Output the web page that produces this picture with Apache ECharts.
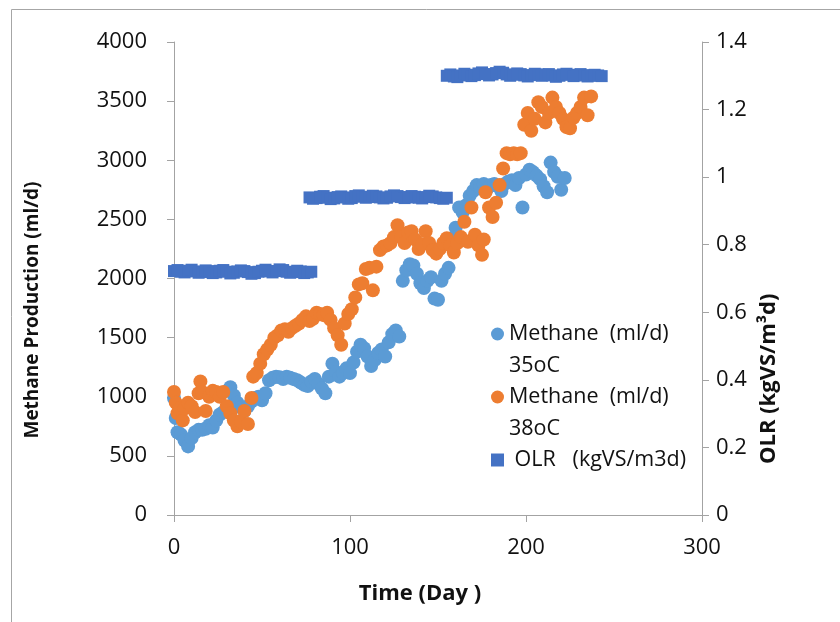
<!DOCTYPE html>
<html>
<head>
<meta charset="utf-8">
<script src="https://cdn.jsdelivr.net/npm/echarts@6/dist/echarts.min.js"></script>
<style>
  html, body { margin: 0; padding: 0; background: #fff; }
  #chart { width: 840px; height: 622px; }
</style>
</head>
<body>
<div id="chart"></div>
<script>
// Methane 35oC (ml/d)
var m35Days = [0, 1, 2, 4, 6, 8, 10, 12, 14, 16, 18, 20, 22, 24, 26, 28, 30, 32, 34, 36, 38, 40, 42, 44, 46, 48, 50,
  52, 54, 56, 58, 60, 62, 64, 66, 68, 70, 72, 74, 76, 78, 80, 82, 84, 86, 88, 90, 92, 94, 96, 98, 100,
  102, 104, 106, 108, 110, 112, 114, 116, 118, 120, 122, 124, 126, 128, 130, 132, 134, 136, 138, 140,
  142, 144, 146, 148, 150, 152, 154, 156, 158, 160, 162, 164, 166, 168, 170, 172, 174, 176, 178, 180,
  182, 184, 186, 188, 190, 192, 194, 196, 198, 200, 202, 204, 206, 208, 210, 212, 214, 216, 218, 220, 222]
var m35Values = [990, 820, 700, 680, 630, 580, 650, 700, 720, 720, 730, 760, 740, 800, 850, 870, 900, 1080, 1010, 950, 910, 880, 920, 960, 990, 1000, 970,
  1030, 1140, 1160, 1170, 1165, 1150, 1170, 1160, 1150, 1140, 1120, 1100, 1090, 1130, 1150, 1110, 1070, 1030, 1170, 1280, 1210, 1170, 1200, 1240, 1200,
  1290, 1380, 1440, 1410, 1340, 1260, 1310, 1370, 1400, 1340, 1460, 1530, 1560, 1510, 1980, 2070, 2120, 2110, 2040, 1960,
  1920, 1980, 2010, 1830, 1820, 1980, 2040, 2090, 2340, 2430, 2600, 2560, 2620, 2700, 2740, 2790, 2770, 2800, 2760, 2790,
  2800, 2780, 2740, 2800, 2820, 2830, 2790, 2850, 2600, 2880, 2920, 2900, 2870, 2840, 2780, 2730, 2980, 2900, 2860, 2750, 2850]

// Methane 38oC (ml/d)
var m38Days = [0, 1, 2, 3, 5, 6, 8, 10, 12, 14, 15, 16, 18, 20, 22, 24, 26, 28, 30, 32, 34, 36, 38, 40, 42, 44, 45,
  47, 49, 51, 53, 55, 57, 59, 61, 63, 65, 67, 69, 71, 73, 75, 77, 79, 81, 83, 85, 87, 89, 91, 93, 95, 97, 99,
  101, 103, 105, 107, 109, 111, 113, 115, 117, 119, 121, 123, 125, 127, 129, 131, 133, 135, 137, 139, 141,
  143, 145, 147, 149, 151, 153, 155, 157, 159, 161, 163, 165, 167, 169, 171, 173, 175, 176, 177, 179, 181,
  183, 185, 187, 189, 191, 193, 195, 197, 199, 201, 203, 205, 207, 209, 211, 213, 215, 217, 219, 221, 223,
  225, 227, 229, 231, 233, 235, 237]
var m38Values = [1040, 950, 860, 900, 800, 900, 950, 920, 870, 1030, 1130, 1040, 880, 1000, 1050, 1040, 1000, 1040, 920, 860, 800, 750, 790, 880, 770, 990, 1170,
  1200, 1280, 1360, 1400, 1440, 1500, 1520, 1560, 1570, 1550, 1580, 1600, 1620, 1650, 1680, 1640, 1660, 1710, 1700, 1690, 1710, 1650, 1580, 1520, 1440, 1620, 1700,
  1740, 1840, 1950, 1960, 2080, 2090, 1900, 2100, 2240, 2270, 2280, 2300, 2350, 2450, 2350, 2300, 2390, 2400, 2330, 2250, 2290,
  2400, 2300, 2240, 2210, 2250, 2300, 2340, 2280, 2220, 2300, 2350, 2480, 2310, 2600, 2370, 2280, 2200, 2330, 2730, 2600, 2520,
  2640, 2790, 2930, 3060, 3050, 3060, 3050, 3060, 3300, 3400, 3250, 3350, 3490, 3450, 3320, 3400, 3530, 3450, 3400, 3350, 3280,
  3270, 3360, 3400, 3450, 3530, 3380, 3540]

// OLR (kgVS/m3d)
var olrDays = [0, 2, 4, 6, 8, 10, 12, 14, 16, 18, 20, 22, 24, 26, 28, 30, 32, 34, 36, 38, 40, 42, 44, 46, 48, 50, 52, 54, 56, 58,
  60, 62, 64, 66, 68, 70, 72, 74, 76, 78,
  77, 79, 81, 83, 85, 87, 89, 91, 93, 95, 97, 99, 101, 103, 105, 107, 109, 111, 113, 115, 117, 119, 121, 123, 125,
  127, 129, 131, 133, 135, 137, 139, 141, 143, 145, 147, 149, 151, 153, 155,
  155, 157, 159, 161, 163, 165, 167, 169, 171, 173, 175, 177, 179, 181, 183, 185, 187, 189, 191, 193, 195, 197, 199,
  201, 203, 205, 207, 209, 211, 213, 215, 217, 219, 221, 223, 225, 227, 229, 231, 233, 235, 237, 239, 241, 243]
var olrValues = [0.722, 0.725, 0.720, 0.718, 0.723, 0.726, 0.721, 0.717, 0.719, 0.724, 0.722, 0.716, 0.718, 0.723, 0.725, 0.720, 0.715, 0.717, 0.721, 0.724,
  0.722, 0.719, 0.714, 0.716, 0.720, 0.723, 0.726, 0.721, 0.718, 0.722, 0.727, 0.725, 0.720, 0.717, 0.719, 0.723, 0.721, 0.716, 0.718, 0.720,
  0.940, 0.936, 0.938, 0.942, 0.944, 0.939, 0.935, 0.937, 0.941, 0.943, 0.940, 0.936, 0.938, 0.944, 0.946, 0.942, 0.939, 0.941, 0.945, 0.943,
  0.940, 0.937, 0.939, 0.943, 0.946, 0.944, 0.941, 0.938, 0.940, 0.944, 0.942, 0.939, 0.937, 0.941, 0.945, 0.943, 0.940, 0.938, 0.936, 0.939,
  1.300, 1.304, 1.298, 1.296, 1.301, 1.306, 1.303, 1.299, 1.302, 1.307, 1.310, 1.305, 1.301, 1.304, 1.308, 1.312, 1.309, 1.304, 1.300, 1.303,
  1.307, 1.305, 1.301, 1.298, 1.302, 1.306, 1.304, 1.300, 1.303, 1.305, 1.301, 1.297, 1.300, 1.304, 1.306, 1.303, 1.299, 1.301, 1.305, 1.302,
  1.298, 1.300, 1.303, 1.301, 1.299]

var name35 = 'Methane  (ml/d)\n35oC'
var name38 = 'Methane  (ml/d)\n38oC'
var nameOlr = ' OLR   (kgVS/m3d)'

function pairs(xs, ys) {
  return xs.map((x, i) => [x, ys[i]])
}

var chart = echarts.init(document.getElementById('chart'))

var axisGrey = '#a3a3a3'
var labelColor = '#111'

var option = {
  animation: false,
  textStyle: { fontFamily: 'Open Sans' },
  graphic: [
    {
      type: 'rect',
      z: -10,
      shape: { x: 11.5, y: 9.5, width: 1000, height: 1000 },
      style: { fill: 'none', stroke: '#a6a6a6', lineWidth: 1 }
    }
  ],
  grid: {
    left: 174,
    right: 138,
    top: 42,
    bottom: 107,
    containLabel: false,
    outerBoundsMode: 'none'
  },
  legend: {
    orient: 'vertical',
    left: 491,
    top: 286,
    padding: 0,
    itemGap: -33,
    itemWidth: 13,
    itemHeight: 13,
    textStyle: { fontSize: 21.5, color: labelColor, lineHeight: 32 },
    // blank first line keeps the icon level with the first text line
    formatter: function (name) {
      return name == nameOlr ? '\n' + name + '\n ' : '\n' + name
    },
    data: [
      { name: name35, icon: 'circle' },
      { name: name38, icon: 'circle' },
      { name: nameOlr, icon: 'rect' }
    ]
  },
  xAxis: {
    type: 'value',
    min: 0,
    max: 300,
    interval: 100,
    name: 'Time (Day )',
    nameLocation: 'middle',
    nameGap: 68,
    nameTextStyle: { fontSize: 22, fontWeight: 'bold', color: labelColor, padding: [0, 36, 0, 0] },
    axisLine: { lineStyle: { color: axisGrey } },
    axisTick: { show: true, length: 7, lineStyle: { color: axisGrey } },
    axisLabel: { fontSize: 22, color: labelColor, margin: 22 },
    splitLine: { show: false }
  },
  yAxis: [
    {
      type: 'value',
      min: 0,
      max: 4000,
      interval: 500,
      name: 'Methane Production (ml/d)',
      nameLocation: 'middle',
      nameGap: 132,
      nameTextStyle: { fontSize: 19, fontWeight: 'bold', color: labelColor, padding: [0, 63, 0, 0] },
      axisLine: { show: true, lineStyle: { color: axisGrey } },
      axisTick: { show: true, length: 7, lineStyle: { color: axisGrey } },
      axisLabel: { fontSize: 22, color: labelColor, margin: 27, formatter: v => String(v) },
      splitLine: { show: false }
    },
    {
      type: 'value',
      position: 'right',
      min: 0,
      max: 1.4,
      interval: 0.2,
      name: 'OLR (kgVS/m³d)',
      nameLocation: 'middle',
      nameGap: 50,
      nameTextStyle: { fontSize: 22, fontWeight: 'bold', color: labelColor, align: 'right', padding: [0, 15, 0, 0] },
      axisLine: { show: true, lineStyle: { color: axisGrey } },
      axisTick: { show: true, length: 7, lineStyle: { color: axisGrey } },
      axisLabel: { fontSize: 22, color: labelColor, margin: 14 },
      splitLine: { show: false }
    }
  ],
  series: [
    {
      name: name35,
      type: 'scatter',
      yAxisIndex: 0,
      symbol: 'circle',
      symbolSize: 14,
      itemStyle: { color: '#5B9BD5', opacity: 1 },
      data: pairs(m35Days, m35Values)
    },
    {
      name: name38,
      type: 'scatter',
      yAxisIndex: 0,
      symbol: 'circle',
      symbolSize: 14,
      itemStyle: { color: '#ED7D31', opacity: 1 },
      data: pairs(m38Days, m38Values)
    },
    {
      name: nameOlr,
      type: 'scatter',
      yAxisIndex: 1,
      symbol: 'rect',
      symbolSize: 12,
      itemStyle: { color: '#4472C4', opacity: 1 },
      data: pairs(olrDays, olrValues)
    }
  ]
}

chart.setOption(option)
</script>
</body>
</html>
